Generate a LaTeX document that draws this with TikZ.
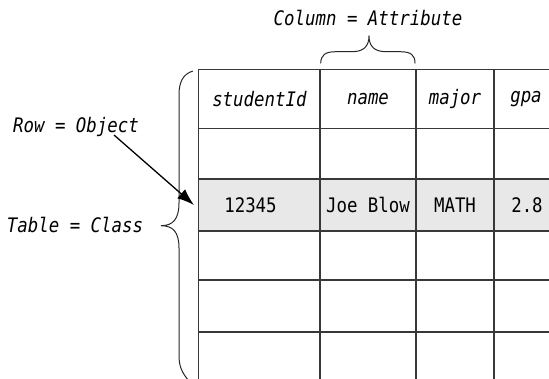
\documentclass[tikz,border=0pt]{standalone}
\usepackage{fontspec}
\newfontfamily\diagfont{DejaVu Sans Mono}[FakeStretch=0.87]
\usetikzlibrary{arrows.meta}
\begin{document}
\begin{tikzpicture}[x=1pt,y=-1pt,
  grid/.style={line width=1.2pt,draw=black!78},
  bracestyle/.style={line width=1pt,draw=black!85},
  lbl/.style={font=\fontsize{20}{22}\selectfont\diagfont\itshape,inner sep=0pt,anchor=center},
  hdr/.style={font=\fontsize{20}{22}\selectfont\diagfont\itshape,inner sep=0pt,anchor=center},
  dat/.style={font=\fontsize{20}{22}\selectfont\diagfont,inner sep=0pt,anchor=center},
  pointer/.style={line width=1.3pt,-{Latex[length=17pt,width=12pt]}}]
\useasboundingbox (0,0) rectangle (549,378);
\clip (0,0) rectangle (549,378);
% shaded row
\fill[black!9] (198.7,179) rectangle (570,231);
% grid
\foreach \y in {69.3,128.7,179,231,280,332}
  \draw[grid] (198.7,\y) -- (570,\y);
\foreach \x in {198.7,320,416,494}
  \draw[grid] (\x,69.3) -- (\x,390);
% header texts
\node[hdr] (h1) at (259.4,99) {studentId};
\node[hdr] (h2) at (368,99) {name};
\node[hdr] (h3) at (455,99) {major};
\node[hdr] (h4) at (526,99) {gpa};
% data
\node[dat] (d1) at (250.5,205) {12345};
\node[dat] (d2) at (368,205) {Joe Blow};
\node[dat] (d3) at (455,205) {MATH};
\node[dat] (d4) at (527,205) {2.8};
% labels
\node[lbl] (col) at (368,18) {Column = Attribute};
\node[lbl] (row) at (76,127) {Row = Object};
\node[lbl] (tab) at (75,225) {Table = Class};
% top brace
\draw[bracestyle] (320.7,63.3) .. controls (321,55) and (325,51.7) .. (336,51.7)
  -- (352,51.7) .. controls (364,51.7) and (369,46) .. (369,35.7)
  .. controls (369,46) and (374,51.7) .. (386,51.7)
  -- (400,51.7) .. controls (411,51.7) and (415,55) .. (415,63.3);
% left brace
\draw[bracestyle] (193,71) .. controls (183,74) and (179,82) .. (179,95)
  -- (179,203) .. controls (179,219) and (173,225.7) .. (161,225.7)
  .. controls (173,225.7) and (179,232) .. (179,248)
  -- (179,356) .. controls (179,366) and (182,373) .. (189,381);
% arrow
\coordinate (rowstart) at (114,135);
\coordinate (rowtip) at (194,205);
\draw[pointer] (rowstart) -- (rowtip);
\end{tikzpicture}
\end{document}
